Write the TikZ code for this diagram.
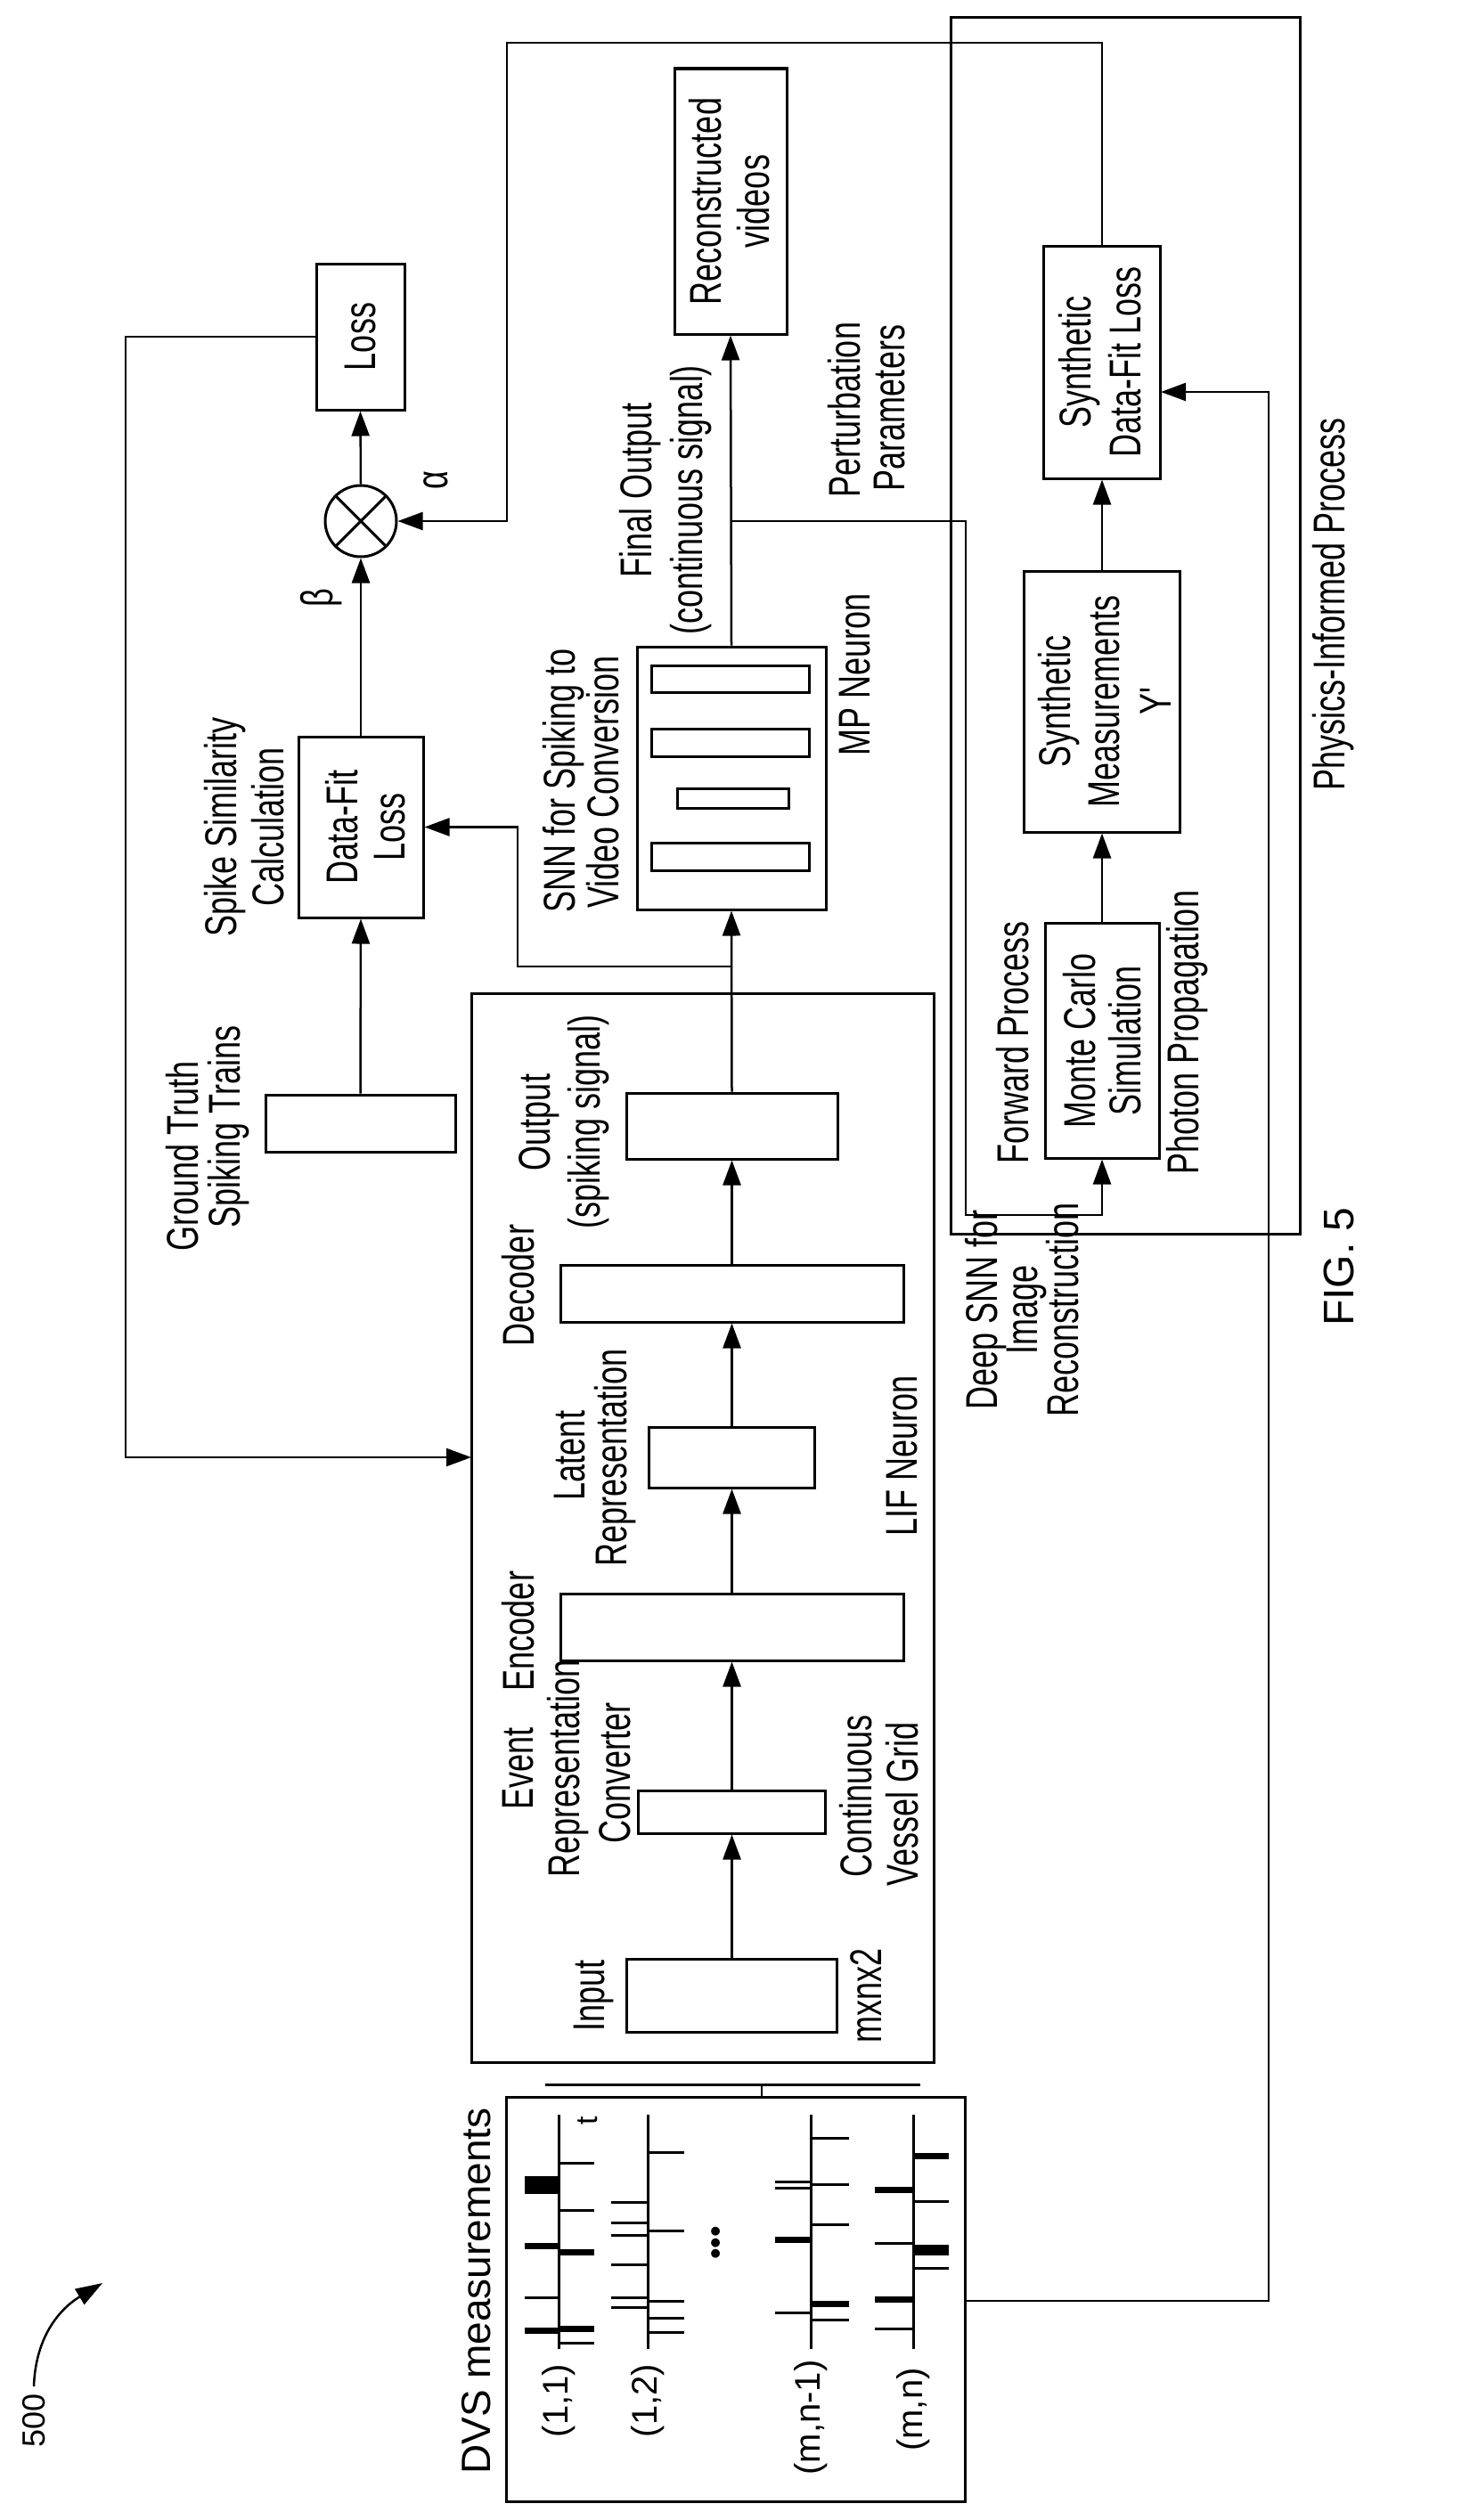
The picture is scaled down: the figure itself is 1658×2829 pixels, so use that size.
\documentclass[tikz,border=0pt]{standalone}
\usepackage{fontspec}
\setmainfont{Liberation Sans}
\newfontfamily\cf[FakeStretch=0.72]{Liberation Sans}
\usetikzlibrary{arrows.meta}
\begin{document}
\begin{tikzpicture}[x=1pt,y=-1pt,
  bx/.style={draw,line width=3pt,rectangle,inner sep=0pt},
  ln/.style={line width=2.5pt},
  ar/.style={ln,-{Triangle[length=28pt,width=20pt]}},
  lb/.style={rotate=90,inner sep=0pt,font=\cf\fontsize{50}{54}\selectfont},
  nl/.style={rotate=90,inner sep=0pt,font=\fontsize{40}{44}\selectfont},
  tk/.style={line width=3pt},
  tkk/.style={line width=7pt}]
\useasboundingbox (0,0) rectangle (1658,2829);
% boxes
\node[bx,minimum width=99pt,minimum height=164pt] (loss) at (404.5,378) {};
\node[bx,circle,minimum size=80pt] (mult) at (405,585) {};
\draw[line width=3pt] (mult.north west) -- (mult.south east) (mult.north east) -- (mult.south west);
\node[bx,minimum width=140pt,minimum height=203pt] (dfl) at (405,928.5) {};
\node[bx,minimum width=213pt,minimum height=64pt] (gt) at (404.5,1261) {};
\node[bx,minimum width=126pt,minimum height=298pt] (recon) at (820,226) {};
\node[bx,minimum width=212pt,minimum height=295pt] (snn) at (821,873.5) {};
\node[bx,minimum width=177pt,minimum height=30pt] (b1) at (819.5,762) {};
\node[bx,minimum width=177pt,minimum height=31pt] (b2) at (819.5,833.5) {};
\node[bx,minimum width=125pt,minimum height=22pt] (b3) at (822.5,896) {};
\node[bx,minimum width=177pt,minimum height=31pt] (b4) at (819.5,961.5) {};
\node[bx,minimum width=519pt,minimum height=1200pt] (deep) at (788.5,1715) {};
\node[bx,minimum width=237pt,minimum height=74pt] (out) at (821.5,1264) {};
\node[bx,minimum width=385pt,minimum height=64pt] (dec) at (821.5,1452) {};
\node[bx,minimum width=186pt,minimum height=68pt] (lat) at (821.5,1636) {};
\node[bx,minimum width=385pt,minimum height=75pt] (enc) at (821.5,1826.5) {};
\node[bx,minimum width=210pt,minimum height=48pt] (evc) at (821.5,2034) {};
\node[bx,minimum width=236pt,minimum height=82pt] (inp) at (821.5,2240) {};
\node[bx,minimum width=515pt,minimum height=454pt] (dvs) at (825.5,2581) {};
\node[bx,minimum width=392pt,minimum height=1365pt] (phys) at (1263,702.5) {};
\node[bx,minimum width=131pt,minimum height=261pt] (sdfl) at (1237,406.5) {};
\node[bx,minimum width=175pt,minimum height=293pt] (sm) at (1237,787.5) {};
\node[bx,minimum width=128pt,minimum height=264pt] (mc) at (1237,1168) {};
% coordinates
\coordinate (j1) at (821.5,1085);
\coordinate (j1b) at (581,1085);
\coordinate (j1c) at (581,928.5);
\coordinate (j2) at (821.5,585);
\coordinate (j2b) at (1084,585);
\coordinate (j2c) at (1084,1364);
\coordinate (j2d) at (1237,1364);
\coordinate (la) at (141,378);
\coordinate (lb) at (141,1636);
\coordinate (lc) at (529,1636);
\coordinate (aa) at (1237,48);
\coordinate (ab) at (569,48);
\coordinate (ac) at (569,585);
\coordinate (da) at (1424,2583);
\coordinate (db) at (1424,440);
\coordinate (dc) at (1303,440);
\coordinate (ba) at (612,2340);
\coordinate (bb) at (1033,2340);
\coordinate (bc) at (855,2340);
% connectors
\draw[ar] (inp.north) -- (evc.south);
\draw[ar] (evc.north) -- (enc.south);
\draw[ar] (enc.north) -- (lat.south);
\draw[ar] (lat.north) -- (dec.south);
\draw[ar] (dec.north) -- (out.south);
\draw[ar] (out.north) -- (snn.south);
\draw[ar] (snn.north) -- (recon.south);
\draw[ar] (j1) -- (j1b) -- (j1c) -- (dfl.east);
\draw[ar] (gt.north) -- (dfl.south);
\draw[ar] (dfl.north) -- (mult.south);
\draw[ar] (mult.north) -- (loss.south);
\draw[ar] (loss.west) -- (la) -- (lb) -- (lc);
\draw[ar] (sdfl.north) -- (aa) -- (ab) -- (ac) -- (mult.east);
\draw[ar] (j2) -- (j2b) -- (j2c) -- (j2d) -- (mc.south);
\draw[ar] (mc.north) -- (sm.south);
\draw[ar] (sm.north) -- (sdfl.south);
\draw[ar] (dvs.east |- da) -- (da) -- (db) -- (dc);
\draw[line width=3pt] (ba) -- (bb);
\draw[ln] (bc) -- (dvs.north -| bc);
% labels
\node[lb] (t1) at (404.5,378) {Loss};
\node[lb] (t2) at (384,928.5) {Data-Fit};
\node[lb] (t3) at (438,928.5) {Loss};
\node[lb] (t4) at (253,928) {Spike Similarity};
\node[lb] (t5) at (301,928) {Calculation};
\node[lb] (t6) at (361,671) {β};
\node[lb] (t7) at (489,539) {α};
\node[lb] (t8) at (205,1298) {Ground Truth};
\node[lb] (t9) at (257,1265) {Spiking Trains};
\node[lb] (t10) at (792,226) {Reconstructed};
\node[lb] (t11) at (846,226) {videos};
\node[lb] (t12) at (719,550) {Final Output};
\node[lb] (t13) at (776,561) {(continuous signal)};
\node[lb] (t14) at (633,876) {SNN for Spiking to};
\node[lb] (t15) at (677,878) {Video Conversion};
\node[lb] (t16) at (960,757) {MP Neuron};
\node[lb] (t17) at (948,460) {Perturbation};
\node[lb] (t18) at (999,458) {Parameters};
\node[lb] (t19) at (605,1260) {Output};
\node[lb] (t20) at (661,1259) {(spiking signal)};
\node[lb] (t21) at (582,1443) {Decoder};
\node[lb] (t22) at (640,1634) {Latent};
\node[lb] (t23) at (691,1636) {Representation};
\node[lb] (t24) at (582,1831) {Encoder};
\node[lb] (t25) at (582,1985) {Event};
\node[lb] (t26) at (638,1985) {Representation};
\node[lb] (t27) at (690,1990) {Converter};
\node[lb] (t28) at (961,2016) {Continuous};
\node[lb] (t29) at (1013,2025) {Vessel Grid};
\node[lb] (t30) at (1013,1634) {LIF Neuron};
\node[lb] (t31) at (1107,1470) {Deep SNN for};
\node[lb] (t32) at (1152,1470) {Image};
\node[lb] (t33) at (1193,1470) {Reconstruction};
\node[lb] (t34) at (666,2240) {Input};
\node[lb] (t35) at (972,2240) {mxnx2};
\node[lb] (t36) at (1137,1170) {Forward Process};
\node[lb] (t37) at (1212,1168) {Monte Carlo};
\node[lb] (t38) at (1263,1168) {Simulation};
\node[lb] (t39) at (1333,1159) {Photon Propagation};
\node[lb] (t40) at (1189,787.5) {Synthetic};
\node[lb] (t41) at (1240,787.5) {Measurements};
\node[lb] (t42) at (1297,787.5) {Y'};
\node[lb] (t43) at (1212,406.5) {Synthetic};
\node[lb] (t44) at (1263,406.5) {Data-Fit Loss};
\node[lb] (t45) at (1497,678) {Physics-Informed Process};
\node[nl,font=\fontsize{48}{52}\selectfont] (t46) at (1503,1422) {FIG. 5};
\node[nl,font=\fontsize{46}{50}\selectfont] (t47) at (535,2572) {DVS measurements};
\node[nl] (t48) at (627,2695) {(1,1)};
\node[nl] (t49) at (727,2695) {(1,2)};
\node[nl] (t50) at (910,2714) {(m,n-1)};
\node[nl] (t51) at (1025,2705) {(m,n)};
\node[nl,font=\fontsize{34}{36}\selectfont] (t52) at (660,2381) {t};
\node[nl,font=\fontsize{36}{40}\selectfont] (t53) at (38,2717) {500};
\node[nl,font=\fontsize{36}{36}\selectfont] (t54) at (807,2518) {•••};
\coordinate (c500a) at (38,2679);
\coordinate (c500b) at (115,2563);
\draw[line width=2.5pt,-{Triangle[length=30pt,width=20pt]}] (c500a) .. controls (40,2620) and (70,2590) .. (c500b);
% spike trains
\foreach \ax in {627,727,910,1025} \draw[line width=3pt] (\ax,2374) -- (\ax,2637);
\foreach \y in {2428,2481,2630} \draw[tk] (627,\y) -- (667,\y);
\foreach \y in {2528,2614} \draw[tkk] (627,\y) -- (667,\y);
\foreach \y in {2579} \draw[tk] (627,\y) -- (589,\y);
\foreach \y in {2521,2616} \draw[tkk] (627,\y) -- (589,\y);
\fill (589,2443) rectangle (627,2463);
\foreach \y in {2416,2504,2583,2602,2618} \draw[tk] (727,\y) -- (768,\y);
\foreach \y in {2472,2495,2509,2542,2579,2590} \draw[tk] (727,\y) -- (686,\y);
\foreach \y in {2400,2452,2497,2604} \draw[tk] (910,\y) -- (953,\y);
\draw[tkk] (910,2586) -- (953,2586);
\foreach \y in {2449,2456,2596} \draw[tk] (910,\y) -- (870,\y);
\draw[tkk] (910,2514) -- (870,2514);
\foreach \y in {2471,2546} \draw[tk] (1025,\y) -- (1065,\y);
\foreach \y in {2420,2523,2528} \draw[tkk] (1025,\y) -- (1065,\y);
\foreach \y in {2518,2614} \draw[tk] (1025,\y) -- (982,\y);
\foreach \y in {2458,2581} \draw[tkk] (1025,\y) -- (982,\y);
\end{tikzpicture}
\end{document}
